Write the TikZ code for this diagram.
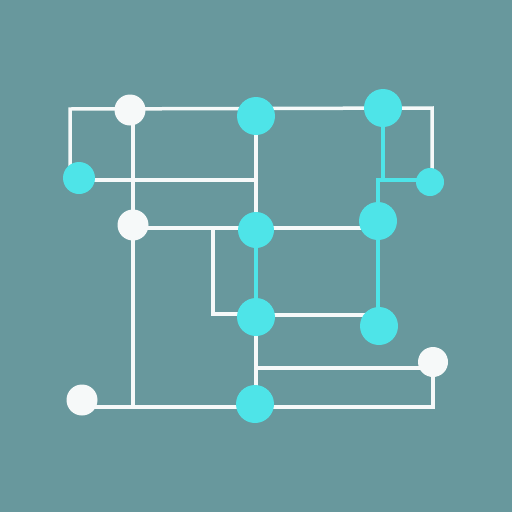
\documentclass[tikz,border=0pt]{standalone}
\usetikzlibrary{backgrounds}
\definecolor{bg}{RGB}{104,152,157}
\definecolor{cy}{RGB}{78,228,232}
\definecolor{wh}{RGB}{246,249,249}
\tikzset{
  wnode/.style={circle,fill=wh,draw=none,inner sep=0pt,minimum size=31pt},
  cnode/.style={circle,fill=cy,draw=none,inner sep=0pt,minimum size=38pt},
  csmall/.style={circle,fill=cy,draw=none,inner sep=0pt,minimum size=28pt},
  wline/.style={draw=wh,line width=3.5pt},
  cline/.style={draw=cy,line width=3.5pt},
}
\begin{document}
\begin{tikzpicture}[x=1pt,y=-1pt]
% nodes
\node[wnode] (w1) at (130,110) {};
\node[cnode] (c1) at (256,116) {};
\node[cnode] (c2) at (383,108) {};
\node[csmall,minimum size=32pt] (c3) at (79,178) {};
\node[csmall] (c4) at (430,182) {};
\node[wnode] (w2) at (133,225) {};
\node[cnode,minimum size=36pt] (c5) at (256,230) {};
\node[cnode] (c6) at (378,221) {};
\node[cnode] (c7) at (256,317) {};
\node[cnode] (c8) at (379,326) {};
\node[wnode,minimum size=30pt] (w3) at (433,362) {};
\node[wnode] (w4) at (82,400) {};
\node[cnode] (c9) at (255,404) {};
% junction coordinates
\coordinate (tl) at (70,109);
\coordinate (tr) at (432,108);
\coordinate (t1) at (133,109);
\coordinate (j1) at (256,180);
\coordinate (j2) at (213,228);
\coordinate (j3) at (213,314);
\coordinate (j4) at (133,407);
\coordinate (j5) at (256,368);
\coordinate (j6) at (433,407);
\coordinate (k1) at (383,180);
\coordinate (k2) at (378,180);
\begin{scope}[on background layer]
\fill[bg] (0,0) rectangle (512,512);
\path[wline] (c3.center -| tl) -- (tl) -- (tr) -- (c4.center -| tr);
\path[wline] (79,180) -- (j1);
\path[wline] (t1) -- (j4);
\path[wline] (w2.center |- j2) -- (c6.center |- j2);
\path[wline] (j2) -- (j3) -- (c7.center |- j3);
\path[wline] (c1.center) -- (c5.center);
\path[wline] (c7.center |- 0,315) -- (c8.center |- 0,315);
\path[wline] (c7.center) -- (c7.center |- j4);
\path[wline] (j5) -- (w3.center |- j5);
\path[wline] (w3.center) -- (j6) -- (c9.center |- j6);
\path[wline] (w4.center |- j4) -- (c9.center |- j4);
\path[cline] (c5.center) -- (c7.center);
\path[cline] (c6.center) -- (c6.center |- c8.center);
\path[cline] (c2.center) -- (k1);
\path[cline] (c4.center |- k2) -- (k2) -- (c6.center);
\end{scope}
\useasboundingbox (0,0) rectangle (512,512);
\end{tikzpicture}
\end{document}
